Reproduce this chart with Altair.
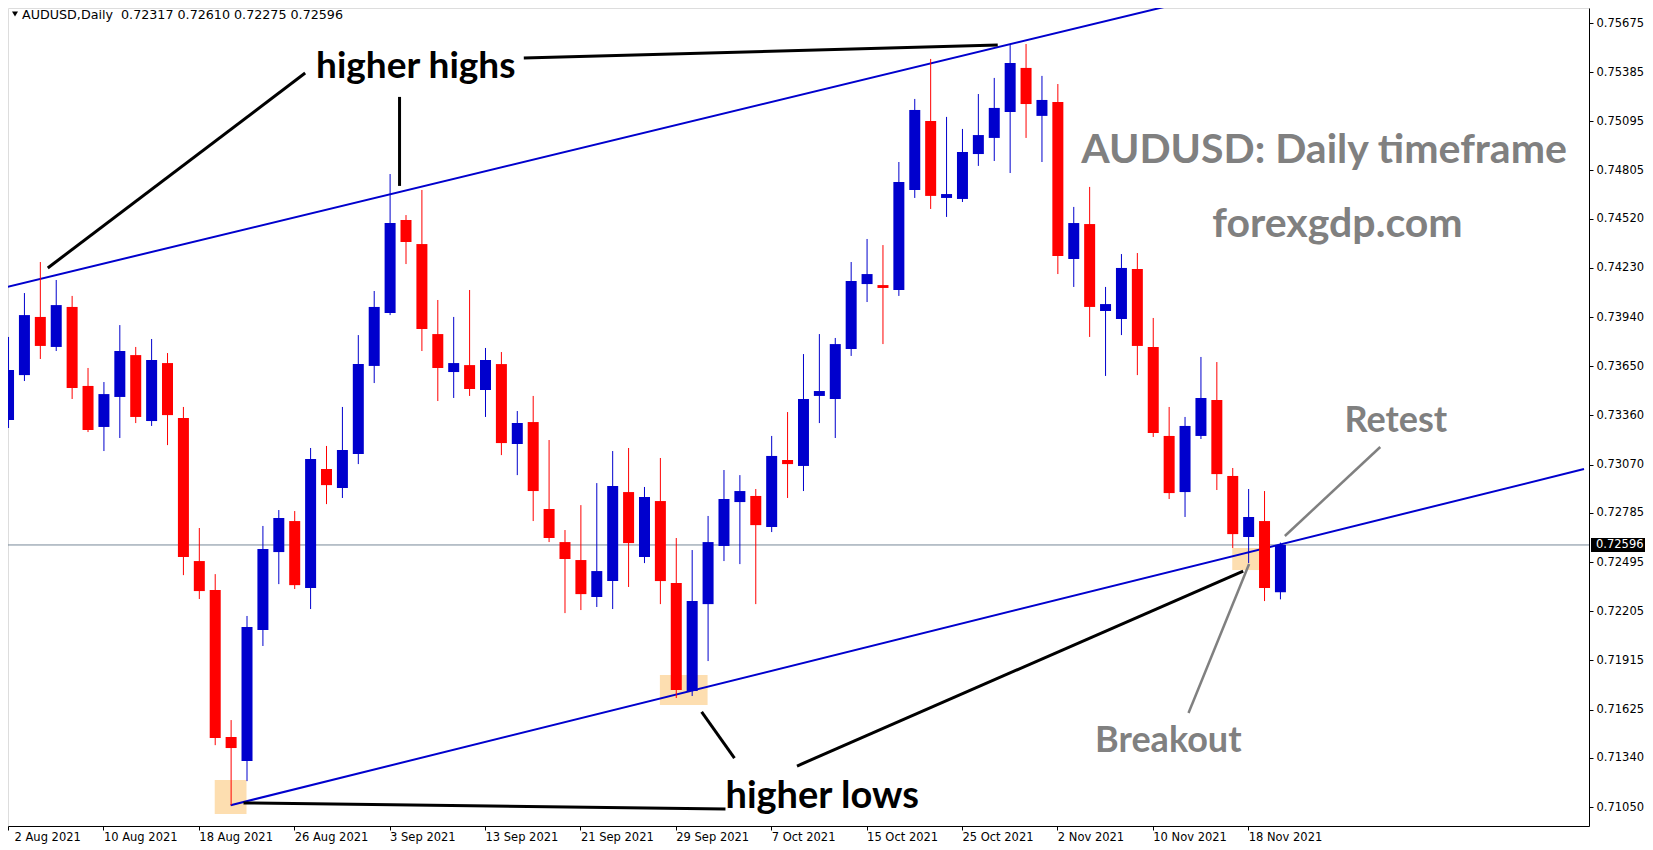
import altair as alt
import pandas as pd

# ---------------- data ----------------
bar_index = list(range(81))
opens = [0.73333, 0.73598, 0.73941, 0.73764, 0.74000, 0.73534, 0.73292, 0.73469, 0.73716, 0.73327,
         0.73669, 0.73345, 0.72501, 0.72330, 0.71463, 0.71321, 0.72094, 0.72554, 0.72737, 0.72342,
         0.73044, 0.72932, 0.73132, 0.73652, 0.73964, 0.74513, 0.74371, 0.73840, 0.73616, 0.73657,
         0.73510, 0.73663, 0.73191, 0.73321, 0.72808, 0.72613, 0.72507, 0.72289, 0.72383, 0.72908,
         0.72525, 0.72855, 0.72371, 0.71734, 0.72247, 0.72590, 0.72849, 0.72885, 0.72702, 0.73097,
         0.73062, 0.73475, 0.73457, 0.73752, 0.74135, 0.74129, 0.74100, 0.74690, 0.75097, 0.74643,
         0.74637, 0.74902, 0.74997, 0.75150, 0.75410, 0.75127, 0.75209, 0.74283, 0.74489, 0.73976,
         0.73929, 0.74224, 0.73764, 0.73239, 0.72908, 0.73239, 0.73451, 0.73003, 0.72643, 0.72737,
         0.72317]
highs = [0.73823, 0.74082, 0.74265, 0.74159, 0.74065, 0.73640, 0.73557, 0.73893, 0.73764, 0.73811,
         0.73728, 0.73410, 0.72696, 0.72424, 0.71563, 0.72177, 0.72708, 0.72802, 0.72796, 0.73168,
         0.73180, 0.73410, 0.73834, 0.74094, 0.74784, 0.74542, 0.74690, 0.74041, 0.73941, 0.74100,
         0.73758, 0.73734, 0.73386, 0.73475, 0.73215, 0.72684, 0.72831, 0.72961, 0.73150, 0.73168,
         0.72938, 0.73109, 0.72637, 0.72566, 0.72767, 0.73038, 0.73008, 0.72926, 0.73239, 0.73380,
         0.73722, 0.73840, 0.73817, 0.74265, 0.74401, 0.74365, 0.74855, 0.75227, 0.75463, 0.75121,
         0.75050, 0.75256, 0.75351, 0.75545, 0.75551, 0.75363, 0.75315, 0.74590, 0.74708, 0.74118,
         0.74312, 0.74318, 0.73935, 0.73410, 0.73351, 0.73705, 0.73675, 0.73050, 0.72926, 0.72914,
         0.72610]
lows = [0.73286, 0.73563, 0.73693, 0.73740, 0.73457, 0.73262, 0.73150, 0.73227, 0.73315, 0.73298,
        0.73185, 0.72418, 0.72277, 0.71415, 0.71061, 0.71203, 0.72000, 0.72365, 0.72336, 0.72218,
        0.72837, 0.72873, 0.73073, 0.73551, 0.73952, 0.74253, 0.73740, 0.73445, 0.73463, 0.73475,
        0.73351, 0.73126, 0.73008, 0.72737, 0.72613, 0.72194, 0.72212, 0.72230, 0.72218, 0.72348,
        0.72489, 0.72247, 0.71693, 0.71705, 0.71911, 0.72501, 0.72483, 0.72247, 0.72672, 0.72873,
        0.72914, 0.73315, 0.73227, 0.73711, 0.74029, 0.73781, 0.74065, 0.74643, 0.74578, 0.74531,
        0.74619, 0.74832, 0.74861, 0.74790, 0.74997, 0.74855, 0.74194, 0.74118, 0.73823, 0.73593,
        0.73834, 0.73598, 0.73233, 0.72867, 0.72761, 0.73221, 0.72920, 0.72578, 0.72489, 0.72265,
        0.72275]
closes = [0.73628, 0.73952, 0.73770, 0.74011, 0.73522, 0.73274, 0.73486, 0.73740, 0.73351, 0.73687,
          0.73362, 0.72525, 0.72324, 0.71457, 0.71398, 0.72112, 0.72572, 0.72755, 0.72359, 0.73103,
          0.72949, 0.73156, 0.73663, 0.74000, 0.74495, 0.74383, 0.73870, 0.73640, 0.73669, 0.73516,
          0.73687, 0.73197, 0.73315, 0.72914, 0.72637, 0.72513, 0.72306, 0.72442, 0.72944, 0.72607,
          0.72879, 0.72383, 0.71740, 0.72265, 0.72613, 0.72867, 0.72914, 0.72713, 0.73121, 0.73073,
          0.73457, 0.73504, 0.73781, 0.74153, 0.74194, 0.74112, 0.74737, 0.75162, 0.74655, 0.74666,
          0.74914, 0.75014, 0.75174, 0.75439, 0.75197, 0.75221, 0.74301, 0.74495, 0.74000, 0.74017,
          0.74230, 0.73770, 0.73256, 0.72902, 0.73298, 0.73463, 0.73014, 0.72660, 0.72761, 0.72342,
          0.72596]

date_labels = ["2 Aug 2021", "10 Aug 2021", "18 Aug 2021", "26 Aug 2021", "3 Sep 2021",
               "13 Sep 2021", "21 Sep 2021", "29 Sep 2021", "7 Oct 2021", "15 Oct 2021",
               "25 Oct 2021", "2 Nov 2021", "10 Nov 2021", "18 Nov 2021"]
date_bars = [0, 6, 12, 18, 24, 30, 36, 42, 48, 54, 60, 66, 72, 78]
price_ticks = [0.75675, 0.75385, 0.75095, 0.74805, 0.74520, 0.74230, 0.73940, 0.73650, 0.73360,
               0.73070, 0.72785, 0.72495, 0.72205, 0.71915, 0.71625, 0.71340, 0.71050]
last_price = [0.72596]
header_text = ["AUDUSD,Daily\u00a0\u00a00.72317 0.72610 0.72275 0.72596"]

# channel trend lines (bar index, price)
trend_i1 = [-0.0625, 14.0]
trend_p1 = [0.74118, 0.71061]
trend_i2 = [73.75, 99.125]
trend_p2 = [0.75793, 0.73044]

# black pointer lines
black_i1 = [2.5, 24.625, 32.44, 14.81, 43.625, 49.625]
black_p1 = [0.74230, 0.75239, 0.75469, 0.71074, 0.71611, 0.71292]
black_i2 = [18.69, 24.625, 62.25, 45.125, 45.69, 77.69]
black_p2 = [0.75380, 0.74714, 0.75545, 0.71038, 0.71339, 0.72442]

# grey pointer lines
grey_i1 = [74.25, 80.31]
grey_p1 = [0.71605, 0.72649]
grey_i2 = [78.06, 86.31]
grey_p2 = [0.72484, 0.73174]

# highlighted zones
zone_i1 = [13.0, 41.0, 77.0]
zone_i2 = [15.0, 44.0, 78.69]
zone_p1 = [0.71210, 0.71829, 0.72578]
zone_p2 = [0.71009, 0.71652, 0.72448]

# annotation texts
dark_text = ["higher highs", "higher lows"]
dark_i = [19.375, 45.125]
dark_p = [0.75351, 0.71044]
big_text = ["AUDUSD: Daily timeframe", "forexgdp.com"]
big_i = [67.5, 75.75]
big_p = [0.74849, 0.74413]
grey_text = ["Retest", "Breakout"]
grey_ti = [84.06, 68.375]
grey_tp = [0.73262, 0.71375]

# ---------------- build ----------------
candles = pd.DataFrame({"i": bar_index, "open": opens, "high": highs, "low": lows, "close": closes})
candles["dir"] = ["up" if c >= o else "down" for o, c in zip(opens, closes)]

trend_df = pd.DataFrame({"i1": trend_i1, "p1": trend_p1, "i2": trend_i2, "p2": trend_p2})
black_df = pd.DataFrame({"i1": black_i1, "p1": black_p1, "i2": black_i2, "p2": black_p2})
grey_df = pd.DataFrame({"i1": grey_i1, "p1": grey_p1, "i2": grey_i2, "p2": grey_p2})
zone_df = pd.DataFrame({"i1": zone_i1, "i2": zone_i2, "p1": zone_p1, "p2": zone_p2})
price_df = pd.DataFrame({"price": last_price, "label": ["%.5f" % last_price[0]]})
header_df = pd.DataFrame({"t": header_text})

xs = alt.Scale(domain=[0.3125, 99.125], nice=False, zero=False)
ys = alt.Scale(domain=[0.709381, 0.757635], nice=False, zero=False)

label_array = "[" + ",".join("'%s'" % d for d in date_labels) + "]"
X_AXIS = alt.Axis(
    values=date_bars, labelExpr=label_array + "[round(datum.value/6)]",
    labelAlign="left", labelBaseline="top", labelPadding=1, tickSize=4,
    title=None, grid=False, labelOverlap=False, labelFlush=False,
    labelFont="DejaVu Sans", labelFontSize=11.5, labelColor="black",
    domainColor="black", tickColor="black",
    labelOffset={"condition": {"test": "datum.value == 0", "value": 6}, "value": 0},
)
Y_AXIS = alt.Axis(
    orient="right", values=price_ticks, format=".5f", tickSize=4, labelPadding=3,
    title=None, grid=False, labelOverlap=False, labelFlush=False,
    labelFont="DejaVu Sans", labelFontSize=11.5, labelColor="black",
    domainColor="black", tickColor="black",
)


def X(f):
    return alt.X(f, scale=xs, axis=X_AXIS)


def Y(f):
    return alt.Y(f, scale=ys, axis=Y_AXIS)


dir_color = alt.Color("dir:N", scale=alt.Scale(domain=["up", "down"], range=["#0000CD", "#FF0000"]), legend=None)

zones = alt.Chart(zone_df).mark_rect(color="#FDDEB0", clip=True).encode(
    x=X("i1:Q"), x2="i2:Q", y=Y("p1:Q"), y2="p2:Q")

price_line = alt.Chart(price_df).mark_rule(color="#778899", strokeWidth=1).encode(y=Y("price:Q"))

trend = alt.Chart(trend_df).mark_rule(color="#0000CD", strokeWidth=2, clip=True).encode(
    x=X("i1:Q"), x2="i2:Q", y=Y("p1:Q"), y2="p2:Q")

black = alt.Chart(black_df).mark_rule(color="black", strokeWidth=3, clip=True).encode(
    x=X("i1:Q"), x2="i2:Q", y=Y("p1:Q"), y2="p2:Q")

grey = alt.Chart(grey_df).mark_rule(color="#808080", strokeWidth=2.5, clip=True).encode(
    x=X("i1:Q"), x2="i2:Q", y=Y("p1:Q"), y2="p2:Q")

wicks = alt.Chart(candles).mark_rule(strokeWidth=1, xOffset=0.5, clip=True).encode(
    x=X("i:Q"), y=Y("low:Q"), y2="high:Q", color=dir_color)

bodies = alt.Chart(candles).mark_bar(size=11, xOffset=0.5, clip=True).encode(
    x=X("i:Q"), y=Y("open:Q"), y2="close:Q", color=dir_color)


def notes(texts, xi, yp, color, size):
    df = pd.DataFrame({"t": texts, "i": xi, "p": yp})
    return alt.Chart(df).mark_text(align="left", baseline="alphabetic", font="Lato",
                                   fontWeight="bold", color=color, fontSize=size).encode(
        x=X("i:Q"), y=Y("p:Q"), text="t:N")


notes_hh = notes(dark_text[:1], dark_i[:1], dark_p[:1], "#000000", 37)
notes_hl = notes(dark_text[1:], dark_i[1:], dark_p[1:], "#000000", 38)
notes_big = notes(big_text, big_i, big_p, "#808080", 41)
notes_grey = notes(grey_text, grey_ti, grey_tp, "#808080", 36)

price_box = alt.Chart(price_df).mark_rule(color="black", strokeWidth=14).encode(
    y=Y("price:Q"), x=alt.value(1583), x2=alt.value(1640))
price_label = alt.Chart(price_df).mark_text(align="left", baseline="middle", font="DejaVu Sans",
                                            fontSize=11.5, color="white").encode(
    y=Y("price:Q"), x=alt.value(1588), text="label:N")

header_tri = alt.Chart(header_df).mark_point(shape="triangle-down", filled=True, size=36,
                                             color="black", opacity=1).encode(
    x=alt.value(7), y=alt.value(6))
header = alt.Chart(header_df).mark_text(align="left", baseline="middle", font="DejaVu Sans",
                                        fontSize=12.7, color="black").encode(
    x=alt.value(14), y=alt.value(7), text="t:N")

chart = alt.layer(
    zones, price_line, trend, black, grey, wicks, bodies,
    notes_hh, notes_hl, notes_big, notes_grey,
    price_box, price_label, header_tri, header
).properties(
    width=1581, height=818,
    padding={"left": 0, "top": 0, "right": 56, "bottom": 22},
    autosize=alt.AutoSizeParams(type="none"),
).configure_view(stroke="black", strokeWidth=1).configure(background="white")

chart.save("out.html", embed_options={"renderer": "svg", "actions": False})
